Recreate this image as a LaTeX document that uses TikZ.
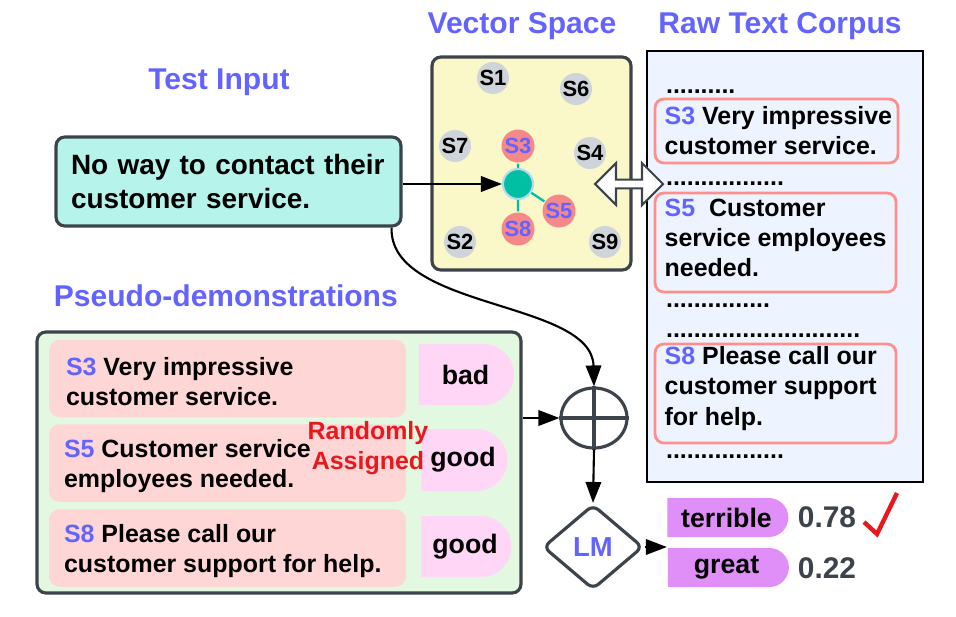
\documentclass[tikz,border=0pt]{standalone}
\usepackage{fontspec}
\setmainfont{Liberation Sans}
\usetikzlibrary{arrows.meta,shapes.geometric,shapes.misc,shapes.arrows}

\definecolor{vblue}{HTML}{6363FF}
\definecolor{edge}{HTML}{3D434B}
\definecolor{inputfill}{HTML}{B6F3EB}
\definecolor{spacefill}{HTML}{FAF8C8}
\definecolor{dotgray}{HTML}{CFD4DA}
\definecolor{hitred}{HTML}{F5898A}
\definecolor{qteal}{HTML}{00BFA2}
\definecolor{qring}{HTML}{B4DAF2}
\definecolor{corpusfill}{HTML}{EEF4FF}
\definecolor{boxred}{HTML}{FF8E8E}
\definecolor{demofill}{HTML}{E3F8E1}
\definecolor{rowfill}{HTML}{FFD6D6}
\definecolor{tagfill}{HTML}{FFD6F5}
\definecolor{outfill}{HTML}{E08EF8}
\definecolor{randred}{HTML}{E8191E}

\begin{document}
\begin{tikzpicture}[
        x=0.02cm, y=-0.02cm,
        >={Triangle[length=0.42cm,width=0.31cm]}, line width=1.2pt,
        every node/.style={font=\fontsize{14.2}{17.1}\selectfont\bfseries},
        title/.style={text=vblue, anchor=base, font=\fontsize{17.1}{20}\selectfont\bfseries},
        panel/.style={draw=edge, line width=1.8pt, rounded corners=5pt, inner sep=0pt},
        vec/.style={circle, fill=dotgray, minimum size=0.64cm, inner sep=0pt,
                font=\fontsize{12.5}{14}\selectfont\bfseries},
        hit/.style={vec, fill=hitred, text=vblue, minimum size=0.66cm},
        snippet/.style={draw=boxred, line width=1.6pt, rounded corners=5pt, inner sep=0pt, fill=corpusfill},
        txt/.style={anchor=west, align=left, inner sep=0pt},
        dots/.style={anchor=base west, inner sep=0pt},
        demo/.style={fill=rowfill, rounded corners=6pt, minimum width=7.14cm, minimum height=1.55cm, inner sep=0pt},
        tag/.style={rounded rectangle, rounded rectangle west arc=none,
                fill=tagfill, inner sep=0pt, font=\fontsize{15.2}{18}\selectfont\bfseries},
        score/.style={text=edge, font=\fontsize{17}{20}\selectfont\bfseries}
    ]
    \useasboundingbox (0,0) rectangle (956,616);

    % titles
    \node[title] (tInput) at (219,89) {Test Input};
    \node[title] (tSpace) at (522,33) {Vector Space};
    \node[title] (tCorpus) at (780,33) {Raw Text Corpus};
    \node[title, anchor=base west] (tDemo) at (47,306) {Pseudo-demonstrations};

    % test input
    \node[panel, fill=inputfill, minimum width=6.86cm, minimum height=1.78cm,
          text width=6.3cm, align=left, inner xsep=0.3cm,
          font=\fontsize{15.9}{19.9}\selectfont\bfseries] (input) at (228.5,181.5)
          {No way to contact their\\customer service.};

    % vector space
    \node[panel, fill=spacefill, minimum width=3.98cm, minimum height=4.26cm] (space) at (531.5,163.5) {};
    \node[vec] (s1) at (493,78) {S1};
    \node[vec] (s6) at (576,89) {S6};
    \node[vec] (s7) at (455,146) {S7};
    \node[vec] (s4) at (590,153) {S4};
    \node[vec] (s2) at (460,242) {S2};
    \node[vec] (s9) at (605,242) {S9};
    \node[circle, fill=qteal, draw=qring, line width=1.2pt, minimum size=0.6cm, inner sep=0pt] (q) at (518,184) {};
    \node[hit] (s3) at (518,146) {S3};
    \node[hit] (s8) at (518,229) {S8};
    \node[hit] (s5) at (559,211) {S5};
    \draw[qteal, line width=1.3pt] (q) -- (s3) (q) -- (s8) (q) -- (s5);

    % raw text corpus
    \node[draw=black, line width=1.2pt, fill=corpusfill, minimum width=5.52cm, minimum height=8.62cm,
          inner sep=0pt] (corpus) at (785,266.5) {};
    \node[dots] (d1) at (665,93) {..........};
    \node[snippet, minimum width=4.86cm, minimum height=1.28cm] (c3) at (776.5,131) {};
    \node[txt] (c3t) at ([xshift=0.2cm]c3.west) {\textcolor{vblue}{S3} Very impressive\\customer service.};
    \node[dots] (d2) at (665,185) {.................};
    \node[snippet, minimum width=4.82cm, minimum height=1.98cm] (c5) at (775.5,242.5) {};
    \node[txt] (c5t) at ([xshift=0.2cm,yshift=0.1cm]c5.west) {\textcolor{vblue}{S5}~ Customer\\service employees\\needed.};
    \node[dots] (d3) at (665,307) {...............};
    \node[dots] (d4) at (665,337) {............................};
    \node[snippet, minimum width=4.82cm, minimum height=1.98cm] (c8) at (775.5,393.5) {};
    \node[txt] (c8t) at ([xshift=0.2cm,yshift=0.1cm]c8.west) {\textcolor{vblue}{S8} Please call our\\customer support\\for help.};
    \node[dots] (d5) at (665,458) {.................};

    \node[double arrow, draw=edge, fill=white, line width=1.2pt, minimum width=0.84cm, minimum height=1.36cm,
          double arrow head extend=0.08cm, inner sep=0pt] (link) at (629,184) {};

    % pseudo-demonstrations
    \node[panel, fill=demofill, minimum width=9.68cm, minimum height=5.22cm] (demo) at (279,462.5) {};
    \node[demo] (r1) at (227.5,378.5) {};
    \node[demo] (r2) at (227.5,463) {};
    \node[demo] (r3) at (227.5,548) {};
    \node[txt] (r1t) at ([xshift=0.34cm,yshift=-0.06cm]r1.west) {\textcolor{vblue}{S3} Very impressive\\customer service.};
    \node[txt] (r2t) at ([xshift=0.3cm,yshift=-0.06cm]r2.west) {\textcolor{vblue}{S5} Customer service\\employees needed.};
    \node[txt] (r3t) at ([xshift=0.3cm,yshift=-0.06cm]r3.west) {\textcolor{vblue}{S8} Please call our\\customer support for help.};
    \node[tag, minimum width=1.9cm, minimum height=1.22cm] (l1) at (465.5,374.5) {bad};
    \node[tag, minimum width=1.72cm, minimum height=1.24cm] (l2) at (463,460) {good};
    \node[tag, minimum width=1.8cm, minimum height=1.22cm] (l3) at (465,546.5) {good};
    \node[text=randred, align=center, inner sep=0pt] (rand) at (368,448) {Randomly\\Assigned};

    % combine and predict
    \node[ellipse, draw=edge, line width=1.8pt, minimum width=1.32cm, minimum height=1.2cm, inner sep=0pt] (sum) at (594,418) {};
    \draw[edge, line width=1.8pt] (sum.north) -- (sum.south) (sum.west) -- (sum.east);
    \node[diamond, draw=edge, line width=1.8pt, rounded corners=4pt, fill=white, minimum width=2cm,
          minimum height=1.7cm, inner sep=0pt, text=vblue, font=\fontsize{15.6}{18}\selectfont\bfseries] (lm) at (593,547) {LM};
    \node[tag, fill=outfill, minimum width=2.42cm, minimum height=0.78cm] (terrible) at (726.5,517.5) {terrible};
    \node[tag, fill=outfill, minimum width=2.42cm, minimum height=0.78cm] (great) at (726.5,567.5) {great};
    \node[score] (p1) at (827,517) {0.78};
    \node[score] (p2) at (827,568) {0.22};
    \draw[randred, line width=2.5pt] (864,522) -- (877,534) -- (897,493);

    \draw[->] (input.east |- q.west) -- (q.west);
    \draw[->] ([xshift=-0.22cm]input.south east) .. controls (389,310) and (592,300) .. (sum.north);
    \draw[->] (demo.east |- sum.west) -- (sum.west);
    \draw[->] (sum.south) -- (lm.north);
    \draw[->] (lm.east) -- (lm.east -| great.west);
\end{tikzpicture}
\end{document}
